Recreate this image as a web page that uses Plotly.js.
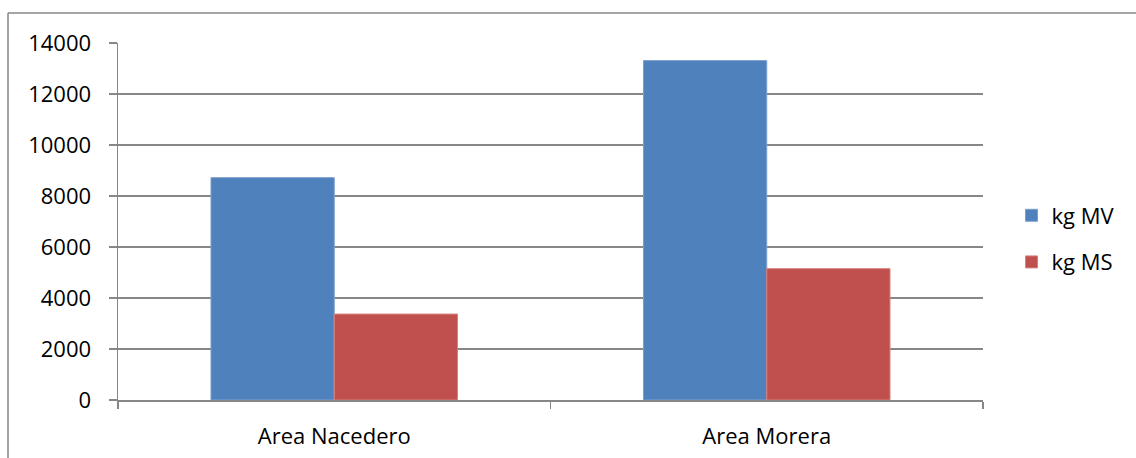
<!DOCTYPE html>
<html>
<head>
<meta charset="utf-8">
<script src="https://cdn.plot.ly/plotly-3.0.1.min.js"></script>
<style>
  html, body { margin: 0; padding: 0; background: #fff; }
  #chart { width: 1136px; height: 458px; }
</style>
</head>
<body>
<div id="chart"></div>
<script>
// Harvest by area (kg fresh matter vs kg dry matter)
const categories = ["Area Nacedero", "Area Morera"];
const kgMV = [8720, 13310];
const kgMS = [3370, 5150];
const seriesNames = ["kg MV", "kg MS"];
const yTicks = [0, 2000, 4000, 6000, 8000, 10000, 12000, 14000];

const W = 1136, H = 458;
const plotLeft = 118, plotRight = 983, plotTop = 43, plotBottom = 400;
const pw = plotRight - plotLeft, ph = plotBottom - plotTop;
const gray = "#878787";
const font = { family: "Open Sans, sans-serif", size: 22, color: "#000" };

const traces = [
  {
    type: "bar", name: seriesNames[0], x: categories, y: kgMV,
    marker: { color: "#4F81BD", line: { color: "#7d9fcc", width: 1 } },
    legendgroup: "a", hoverinfo: "skip"
  },
  {
    type: "bar", name: seriesNames[1], x: categories, y: kgMS,
    marker: { color: "#C0504D", line: { color: "#d6817e", width: 1 } },
    legendgroup: "b", hoverinfo: "skip"
  }
];

// chart frame: top and left edges of the outer border
const bx = (8 - plotLeft) / pw;
const by = 1 + (plotTop - 13) / ph;

const layout = {
  width: W, height: H,
  margin: { l: plotLeft, r: W - plotRight, t: plotTop, b: H - plotBottom },
  paper_bgcolor: "#fff", plot_bgcolor: "#fff",
  font: font,
  barmode: "group",
  bargap: 0.43,
  bargroupgap: 0,
  showlegend: true,
  legend: {
    x: 1.033, xanchor: "left", y: 0.451, yanchor: "middle",
    font: font, tracegroupgap: 15, itemwidth: 30
  },
  xaxis: {
    type: "category",
    showline: true, linecolor: gray, linewidth: 1.5,
    ticks: "outside", tickson: "boundaries", ticklen: 7, tickcolor: gray, tickwidth: 1.5,
    ticklabelstandoff: 16,
    showgrid: false, zeroline: false, fixedrange: true,
    tickfont: font
  },
  yaxis: {
    range: [0, 14000],
    tickvals: yTicks, ticktext: yTicks.map(String),
    showline: true, linecolor: gray, linewidth: 1.5,
    ticks: "outside", ticklen: 8, tickcolor: gray, tickwidth: 1.5,
    ticklabelstandoff: 13,
    showgrid: true, gridcolor: gray, gridwidth: 1.5,
    zeroline: false, fixedrange: true,
    tickfont: font
  },
  shapes: [
    { type: "line", xref: "paper", yref: "paper", x0: bx, x1: (W + 10 - plotLeft) / pw, y0: by, y1: by,
      line: { color: gray, width: 1.5 } },
    { type: "line", xref: "paper", yref: "paper", x0: bx, x1: bx, y0: by, y1: -(H + 10 - plotBottom) / ph,
      line: { color: gray, width: 1.5 } }
  ]
};

Plotly.newPlot("chart", traces, layout, { staticPlot: true, displayModeBar: false });
</script>
</body>
</html>
